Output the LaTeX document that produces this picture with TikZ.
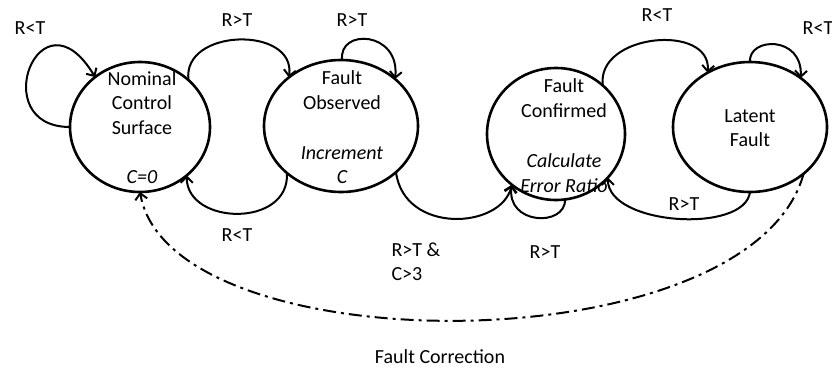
\documentclass[tikz,border=0pt]{standalone}
\usepackage{fontspec}
\setmainfont{Carlito}
\usetikzlibrary{positioning,arrows.meta,shapes.geometric}

\begin{document}
\begin{tikzpicture}[x=1pt,y=-1pt,
    state/.style={draw, ellipse, line width=2.6pt, inner sep=0pt, outer sep=0pt},
    txt/.style={align=center, font=\fontsize{20}{24.4}\selectfont},
    act/.style={align=center, font=\fontsize{20}{24.4}\selectfont\itshape},
    lbl/.style={font=\fontsize{20}{24.4}\selectfont},
    arr/.style={line width=2pt, -{Straight Barb[length=6pt,width=12pt]}},
    dashdot/.style={dash pattern=on 13pt off 5pt on 3pt off 5pt}]
  \useasboundingbox (0,0) rectangle (832,370);
  % states
  \node[state, minimum width=140pt, minimum height=130pt] (nom) at (140,127) {};
  \node[state, minimum width=154pt, minimum height=132pt] (obs) at (341,126) {};
  \node[state, minimum width=138pt, minimum height=132pt] (conf) at (556,134) {};
  \node[state, minimum width=154pt, minimum height=130pt] (lat) at (750,127) {};
  \node[txt] (nomname) at (142,103) {Nominal\\Control\\Surface};
  \node[act] (nomact) at (142,177) {C=0};
  \node[txt] (obsname) at (342,90) {Fault\\Observed};
  \node[act] (obsact) at (342,165) {Increment\\C};
  \node[txt] (confname) at (564,98) {Fault\\Confirmed};
  \node[act] (confact) at (564,173) {Calculate\\Error Ratio};
  \node[txt] (latname) at (750,128) {Latent\\Fault};
  % transitions
  \draw[arr] (nom.180) .. controls +(-85,0) and +(-55,-92) .. (nom.132);
  \draw[arr] (nom.44) .. controls +(-7,-52) and +(7,-52) .. (obs.137);
  \draw[arr] (obs.89) .. controls +(-4,-32) and +(5,-48) .. (obs.41);
  \draw[arr] (obs.221) .. controls +(3,55) and +(0,50) .. (nom.314);
  \draw[arr] (obs.320) .. controls +(8,62) and +(-11,45) .. (conf.229);
  \draw[arr] (conf.278) .. controls +(0,28) and +(-6,40) .. (conf.229);
  \draw[arr] (conf.46) .. controls +(-7,-52) and +(4,-50) .. (lat.128);
  \draw[arr] (lat.90) .. controls +(-2,-25) and +(2,-43) .. (lat.44);
  \draw[arr] (lat.270) .. controls +(-5,42) and +(0,48) .. (conf.320);
  \draw[arr, dashdot] (lat.319) .. controls +(-53,193) and +(30,174) .. (nom.270);
  % labels
  \node[lbl] (l1) at (30,28) {R<T};
  \node[lbl] (l2) at (237,20) {R>T};
  \node[lbl] (l3) at (352,20) {R>T};
  \node[lbl] (l4) at (657,15) {R<T};
  \node[lbl] (l5) at (818,28) {R<T};
  \node[lbl] (l6) at (237,235) {R<T};
  \node[lbl, align=left, anchor=west] (l7) at (388,262) {R>T \&\\C>3};
  \node[lbl] (l8) at (545,252) {R>T};
  \node[lbl] (l9) at (684,204) {R>T};
  \node[lbl] (l10) at (440,357) {Fault Correction};
\end{tikzpicture}
\end{document}
